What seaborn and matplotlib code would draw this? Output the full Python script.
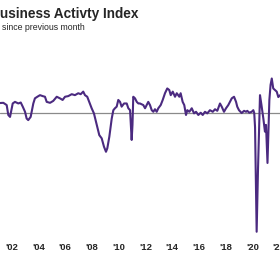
#!/usr/bin/env python3
"""Business Activity Index line chart (cropped view), 2001-2022."""

import matplotlib
matplotlib.use("Agg")
import matplotlib.pyplot as plt
import seaborn as sns

# decimal year of each reading
years = [
    2000.98, 2001.38, 2001.63, 2001.75, 2001.88, 2002.08, 2002.25, 2002.50,
    2002.68, 2002.83, 2003.00, 2003.12, 2003.24, 2003.42, 2003.62, 2003.74,
    2003.92, 2004.12, 2004.32, 2004.49, 2004.62, 2004.87, 2005.11, 2005.37,
    2005.61, 2005.81, 2005.99, 2006.23, 2006.49, 2006.73, 2006.98, 2007.16,
    2007.35, 2007.48, 2007.65, 2007.80, 2007.98, 2008.15, 2008.36, 2008.55,
    2008.73, 2008.90, 2009.05, 2009.15, 2009.30, 2009.48, 2009.60, 2009.72,
    2009.85, 2009.97, 2010.10, 2010.22, 2010.40, 2010.60, 2010.72, 2010.85,
    2010.92, 2010.97, 2011.03, 2011.09, 2011.22, 2011.35, 2011.47, 2011.59,
    2011.84, 2011.97, 2012.09, 2012.21, 2012.34, 2012.47, 2012.59, 2012.71,
    2012.84, 2012.96, 2013.14, 2013.29, 2013.46, 2013.63, 2013.78, 2013.89,
    2014.04, 2014.21, 2014.34, 2014.53, 2014.63, 2014.78, 2014.90, 2015.03,
    2015.13, 2015.28, 2015.46, 2015.63, 2015.78, 2015.95, 2016.13, 2016.28,
    2016.45, 2016.62, 2016.82, 2017.03, 2017.20, 2017.37, 2017.57, 2017.70,
    2017.87, 2018.02, 2018.19, 2018.45, 2018.62, 2018.77, 2018.86, 2018.99,
    2019.19, 2019.37, 2019.52, 2019.61, 2019.76, 2019.94, 2020.06, 2020.13,
    2020.19, 2020.31, 2020.41, 2020.56, 2020.67, 2020.81, 2020.93, 2021.01,
    2021.12, 2021.26, 2021.35, 2021.44, 2021.55, 2021.68, 2021.81, 2021.93,
    2022.06, 2022.15,
]

# index value (50 = no change since previous month)
index_values = [
    53.1, 53.2, 52.5, 49.4, 48.8, 53.0, 53.5, 53.0,
    53.3, 52.0, 50.4, 48.3, 47.8, 48.8, 53.0, 54.6,
    55.1, 55.6, 55.3, 55.1, 53.5, 53.2, 53.8, 55.1,
    54.6, 54.1, 55.1, 55.3, 55.9, 55.6, 56.2, 55.9,
    56.7, 55.6, 55.1, 53.5, 51.5, 49.9, 46.3, 43.1,
    42.1, 39.5, 37.9, 39.0, 42.6, 48.3, 50.9, 51.5,
    52.0, 54.1, 53.5, 52.0, 53.0, 53.0, 51.5, 50.9,
    45.3, 41.6, 46.3, 55.1, 54.6, 53.5, 53.0, 53.0,
    52.5, 51.5, 52.5, 53.5, 52.5, 50.9, 50.4, 51.2,
    50.4, 51.5, 52.5, 54.1, 56.2, 57.7, 57.2, 55.6,
    56.7, 55.1, 56.2, 55.1, 56.2, 53.5, 52.5, 49.4,
    50.9, 50.4, 51.5, 49.9, 50.4, 49.4, 50.1, 49.4,
    50.4, 49.9, 50.9, 50.4, 51.2, 50.7, 53.0, 52.0,
    50.4, 51.5, 52.5, 54.6, 55.1, 53.5, 52.0, 50.9,
    50.0, 50.7, 50.4, 50.7, 50.1, 50.4, 50.9, 50.0,
    45.6, 12.9, 32.2, 55.6, 52.5, 48.3, 44.2, 46.3,
    34.4, 54.1, 58.8, 60.8, 57.7, 57.2, 56.7, 55.0,
    55.6, 55.0,
]

tick_years = list(range(2002, 2024, 2))
tick_labels = ["'02", "'04", "'06", "'08", "'10", "'12", "'14", "'16", "'18", "'20", "'22"]

LINE_COLOR = "#4b2a80"
GREY = "#8a8a8a"


def main():
    sns.set_style("white")
    plt.rcParams["font.family"] = ["Liberation Sans", "DejaVu Sans"]

    fig = plt.figure(figsize=(2.8, 2.8), dpi=100)
    ax = fig.add_axes([0.0, 0.157, 1.0, 0.682])

    # no-change line at 50
    ax.axhline(50, color=GREY, lw=0.9, zorder=1)

    sns.lineplot(x=years, y=index_values, ax=ax, color=LINE_COLOR,
                 linewidth=1.5, zorder=3)

    ax.set_xlim(2001.13, 2022.055)
    ax.set_ylim(11.56, 71.25)
    ax.set_xlabel("")
    ax.set_ylabel("")
    ax.set_yticks([])

    for side in ["left", "right", "top", "bottom"]:
        ax.spines[side].set_visible(False)

    # small tick marks sitting on the 50 line
    ax.set_xticks(tick_years)
    ax.tick_params(axis="x", direction="out", length=2, width=0.6,
                   color=GREY, labelbottom=False)
    ax.spines["bottom"].set_position(("data", 50))

    # labels at the bottom
    sec = ax.secondary_xaxis("bottom")
    sec.set_xticks(tick_years)
    sec.set_xticklabels(tick_labels, fontsize=6.8, fontweight="bold")
    sec.tick_params(length=0, pad=5)
    sec.spines["bottom"].set_visible(False)

    fig.text(-9.7 / 280, 1 - 18 / 280, "Business Activty Index",
             fontsize=9.8, fontweight="bold", va="baseline", ha="left")
    fig.text(2 / 280, 1 - 30 / 280, "since previous month",
             fontsize=6.3, va="baseline", ha="left")

    fig.savefig("out.png", dpi=100, facecolor="white")
    plt.close(fig)


if __name__ == "__main__":
    main()
